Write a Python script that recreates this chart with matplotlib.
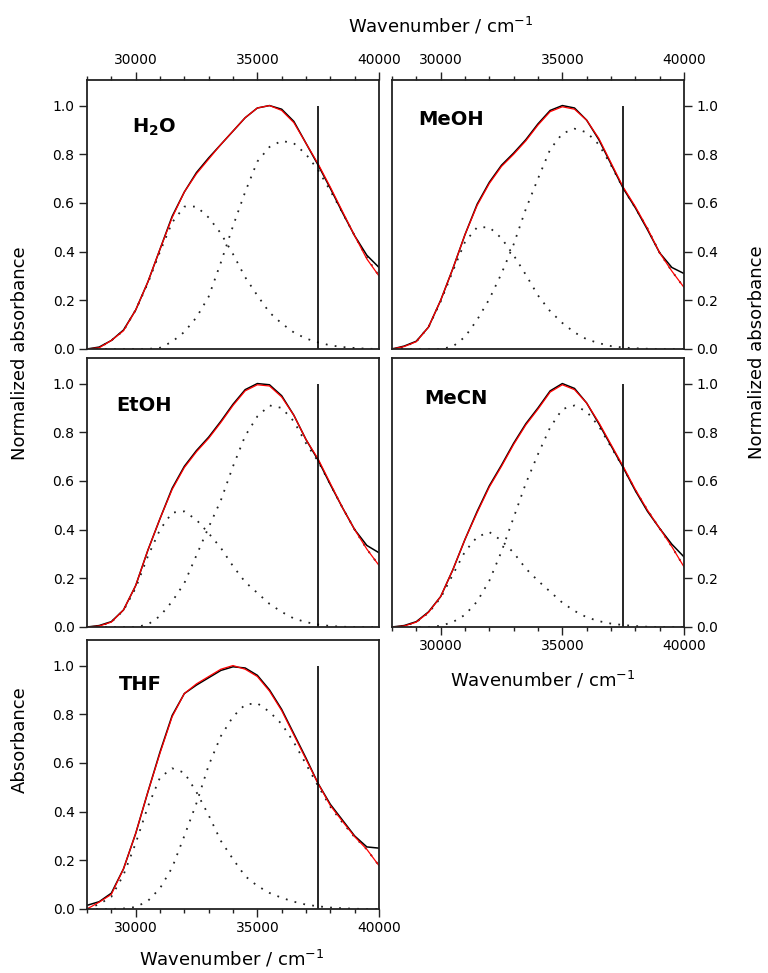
import numpy as np
import matplotlib
matplotlib.use("Agg")
import matplotlib.pyplot as plt
from matplotlib.ticker import MultipleLocator, FormatStrFormatter

plt.rcParams['font.family'] = ['DejaVu Sans']
plt.rcParams['mathtext.fontset'] = 'dejavusans'

# shared wavenumber grid (cm-1)
wavenumber = np.arange(28000, 40001, 500)

# values, one entry per grid point
h2o_exp = [0.0, 0.008, 0.035, 0.078, 0.16, 0.275, 0.41, 0.545, 0.645, 0.725, 0.785, 0.84, 0.895,
           0.95, 0.99, 1.0, 0.985, 0.935, 0.845, 0.755, 0.66, 0.56, 0.465, 0.385, 0.335]
h2o_fit = [0.0, 0.005, 0.035, 0.075, 0.16, 0.275, 0.41, 0.54, 0.645, 0.72, 0.78, 0.84, 0.895,
           0.95, 0.99, 1.0, 0.98, 0.93, 0.845, 0.76, 0.665, 0.565, 0.465, 0.37, 0.30]
h2o_band1 = [0.0, 0.005, 0.035, 0.075, 0.16, 0.27, 0.40, 0.52, 0.585, 0.585, 0.54, 0.475, 0.39,
             0.295, 0.22, 0.15, 0.105, 0.068, 0.043, 0.027, 0.015, 0.008, 0.004, 0.001, 0.0]
h2o_band2 = [0.0, 0.0, 0.0, 0.0, 0.0, 0.0, 0.005, 0.03, 0.07, 0.13, 0.215, 0.355, 0.505,
             0.645, 0.77, 0.83, 0.855, 0.845, 0.80, 0.735, 0.65, 0.56, 0.465, 0.375, 0.30]

meoh_exp = [0.0, 0.012, 0.032, 0.09, 0.20, 0.33, 0.47, 0.595, 0.685, 0.755, 0.805, 0.86, 0.925,
            0.98, 1.0, 0.99, 0.94, 0.86, 0.76, 0.66, 0.58, 0.49, 0.395, 0.335, 0.31]
meoh_fit = [0.0, 0.01, 0.03, 0.09, 0.20, 0.33, 0.47, 0.59, 0.68, 0.75, 0.80, 0.855, 0.92,
            0.975, 0.995, 0.985, 0.94, 0.865, 0.765, 0.665, 0.585, 0.495, 0.395, 0.32, 0.253]
meoh_band1 = [0.0, 0.01, 0.03, 0.09, 0.195, 0.32, 0.44, 0.50, 0.50, 0.455, 0.385, 0.305, 0.22,
              0.155, 0.107, 0.068, 0.04, 0.024, 0.012, 0.006, 0.003, 0.001, 0.0, 0.0, 0.0]
meoh_band2 = [0.0, 0.0, 0.0, 0.0, 0.0, 0.01, 0.05, 0.12, 0.205, 0.31, 0.43, 0.575, 0.70,
              0.82, 0.885, 0.905, 0.89, 0.84, 0.755, 0.66, 0.58, 0.495, 0.395, 0.32, 0.253]

etoh_exp = [0.0, 0.006, 0.022, 0.07, 0.17, 0.315, 0.445, 0.57, 0.66, 0.725, 0.78, 0.845, 0.915,
            0.975, 1.0, 0.995, 0.95, 0.87, 0.77, 0.685, 0.585, 0.49, 0.40, 0.335, 0.305]
etoh_fit = [0.0, 0.004, 0.02, 0.07, 0.17, 0.315, 0.445, 0.565, 0.655, 0.72, 0.775, 0.84, 0.91,
            0.97, 0.995, 0.99, 0.945, 0.87, 0.77, 0.69, 0.59, 0.49, 0.40, 0.32, 0.253]
etoh_band1 = [0.0, 0.004, 0.02, 0.068, 0.16, 0.29, 0.40, 0.47, 0.475, 0.44, 0.385, 0.325, 0.25,
              0.185, 0.14, 0.095, 0.062, 0.035, 0.02, 0.01, 0.004, 0.001, 0.0, 0.0, 0.0]
etoh_band2 = [0.0, 0.0, 0.0, 0.0, 0.0, 0.01, 0.045, 0.105, 0.18, 0.295, 0.41, 0.52, 0.66,
              0.785, 0.865, 0.91, 0.90, 0.845, 0.755, 0.68, 0.586, 0.49, 0.40, 0.32, 0.253]

mecn_exp = [0.0, 0.006, 0.022, 0.062, 0.125, 0.235, 0.36, 0.475, 0.58, 0.665, 0.755, 0.835, 0.90,
            0.97, 1.0, 0.98, 0.92, 0.835, 0.745, 0.655, 0.56, 0.475, 0.405, 0.34, 0.288]
mecn_fit = [0.0, 0.004, 0.02, 0.06, 0.125, 0.235, 0.36, 0.47, 0.575, 0.66, 0.75, 0.83, 0.895,
            0.965, 0.995, 0.975, 0.92, 0.84, 0.75, 0.66, 0.565, 0.48, 0.405, 0.33, 0.247]
mecn_band1 = [0.0, 0.004, 0.02, 0.058, 0.12, 0.215, 0.31, 0.37, 0.39, 0.355, 0.305, 0.24, 0.19,
              0.145, 0.10, 0.066, 0.04, 0.024, 0.014, 0.008, 0.004, 0.001, 0.0, 0.0, 0.0]
mecn_band2 = [0.0, 0.0, 0.0, 0.0, 0.005, 0.02, 0.05, 0.105, 0.19, 0.31, 0.45, 0.59, 0.71,
              0.82, 0.895, 0.91, 0.885, 0.825, 0.74, 0.655, 0.562, 0.48, 0.405, 0.33, 0.247]

thf_exp = [0.015, 0.03, 0.065, 0.165, 0.31, 0.48, 0.645, 0.795, 0.885, 0.92, 0.95, 0.98, 0.995,
           0.99, 0.96, 0.90, 0.82, 0.72, 0.62, 0.515, 0.43, 0.365, 0.30, 0.255, 0.25]
thf_fit = [0.0, 0.028, 0.06, 0.165, 0.31, 0.48, 0.64, 0.79, 0.885, 0.925, 0.955, 0.985, 1.0,
           0.985, 0.955, 0.895, 0.815, 0.715, 0.615, 0.515, 0.425, 0.36, 0.297, 0.245, 0.178]
thf_band1 = [0.0, 0.02, 0.05, 0.14, 0.27, 0.42, 0.54, 0.578, 0.56, 0.48, 0.385, 0.28, 0.205,
             0.135, 0.095, 0.066, 0.046, 0.03, 0.018, 0.011, 0.006, 0.003, 0.001, 0.0, 0.0]
thf_band2 = [0.0, 0.0, 0.0, 0.002, 0.008, 0.033, 0.085, 0.17, 0.30, 0.435, 0.59, 0.71, 0.79,
             0.84, 0.845, 0.81, 0.76, 0.685, 0.595, 0.505, 0.42, 0.355, 0.295, 0.245, 0.178]

solvents = [r'$\mathbf{H_2O}$', 'MeOH', 'EtOH', 'MeCN', 'THF']
cutoff = 37500

W, H = 768, 973
fig = plt.figure(figsize=(W / 100, H / 100), dpi=100)


def px_axes(x0, y0, x1, y1):
    return fig.add_axes([x0 / W, 1 - y1 / H, (x1 - x0) / W, (y1 - y0) / H])


# panel boxes in pixels, label position in axes coords, which sides carry ticks
panels = [
    ((87, 80, 379, 349), (0.155, 0.825), dict(top=True, left=True)),
    ((392, 80, 684, 349), (0.09, 0.855), dict(top=True, right=True)),
    ((87, 358, 379, 627), (0.10, 0.825), dict(left=True)),
    ((392, 358, 684, 627), (0.11, 0.851), dict(bottom=True, right=True)),
    ((87, 640, 379, 909), (0.11, 0.833), dict(bottom=True, left=True)),
]
data = [
    (h2o_exp, h2o_fit, h2o_band1, h2o_band2),
    (meoh_exp, meoh_fit, meoh_band1, meoh_band2),
    (etoh_exp, etoh_fit, etoh_band1, etoh_band2),
    (mecn_exp, mecn_fit, mecn_band1, mecn_band2),
    (thf_exp, thf_fit, thf_band1, thf_band2),
]

for (box, lab_pos, sides), name, (exp, fit, b1, b2) in zip(panels, solvents, data):
    ax = px_axes(*box)
    ax.plot(wavenumber, b1, color='#222222', lw=1.3, ls=(0, (1, 4)))
    ax.plot(wavenumber, b2, color='#222222', lw=1.3, ls=(0, (1, 4)))
    ax.plot(wavenumber, exp, color='black', lw=1.1)
    ax.plot(wavenumber, fit, color='red', lw=0.9)
    ax.vlines(cutoff, 0, 1.0, color='black', lw=1.2)
    ax.set_xlim(28000, 40000)
    ax.set_ylim(0, 1.105)
    ax.xaxis.set_major_locator(MultipleLocator(5000))
    ax.xaxis.set_minor_locator(MultipleLocator(1000))
    ax.yaxis.set_major_locator(MultipleLocator(0.2))
    ax.yaxis.set_major_formatter(FormatStrFormatter('%.1f'))
    for s in ax.spines.values():
        s.set_linewidth(1.3)
        s.set_color('#222222')
    top = sides.get('top', False)
    bottom = sides.get('bottom', False)
    left = sides.get('left', False)
    right = sides.get('right', False)
    ax.tick_params(which='both', direction='out', color='#222222', width=1.0,
                   top=top, bottom=bottom, left=left, right=right,
                   labeltop=top, labelbottom=bottom, labelleft=left, labelright=right,
                   labelsize=10, pad=3)
    ax.tick_params(which='major', length=6)
    ax.tick_params(which='minor', length=3)
    ax.text(lab_pos[0], lab_pos[1], name, transform=ax.transAxes, ha='left', va='center',
            fontsize=14, fontweight='bold')

xlabel = r'Wavenumber / cm$^{\mathregular{-1}}$'
fig.text(441 / W, 1 - 26 / H, xlabel, ha='center', va='center', fontsize=13)
fig.text(543 / W, 1 - 680 / H, xlabel, ha='center', va='center', fontsize=13)
fig.text(232 / W, 1 - 959 / H, xlabel, ha='center', va='center', fontsize=13)
fig.text(20 / W, 1 - 353 / H, 'Normalized absorbance', rotation=90, ha='center', va='center', fontsize=13)
fig.text(757 / W, 1 - 352 / H, 'Normalized absorbance', rotation=90, ha='center', va='center', fontsize=13)
fig.text(20 / W, 1 - 740 / H, 'Absorbance', rotation=90, ha='center', va='center', fontsize=13)

fig.savefig('out.png', dpi=100)
